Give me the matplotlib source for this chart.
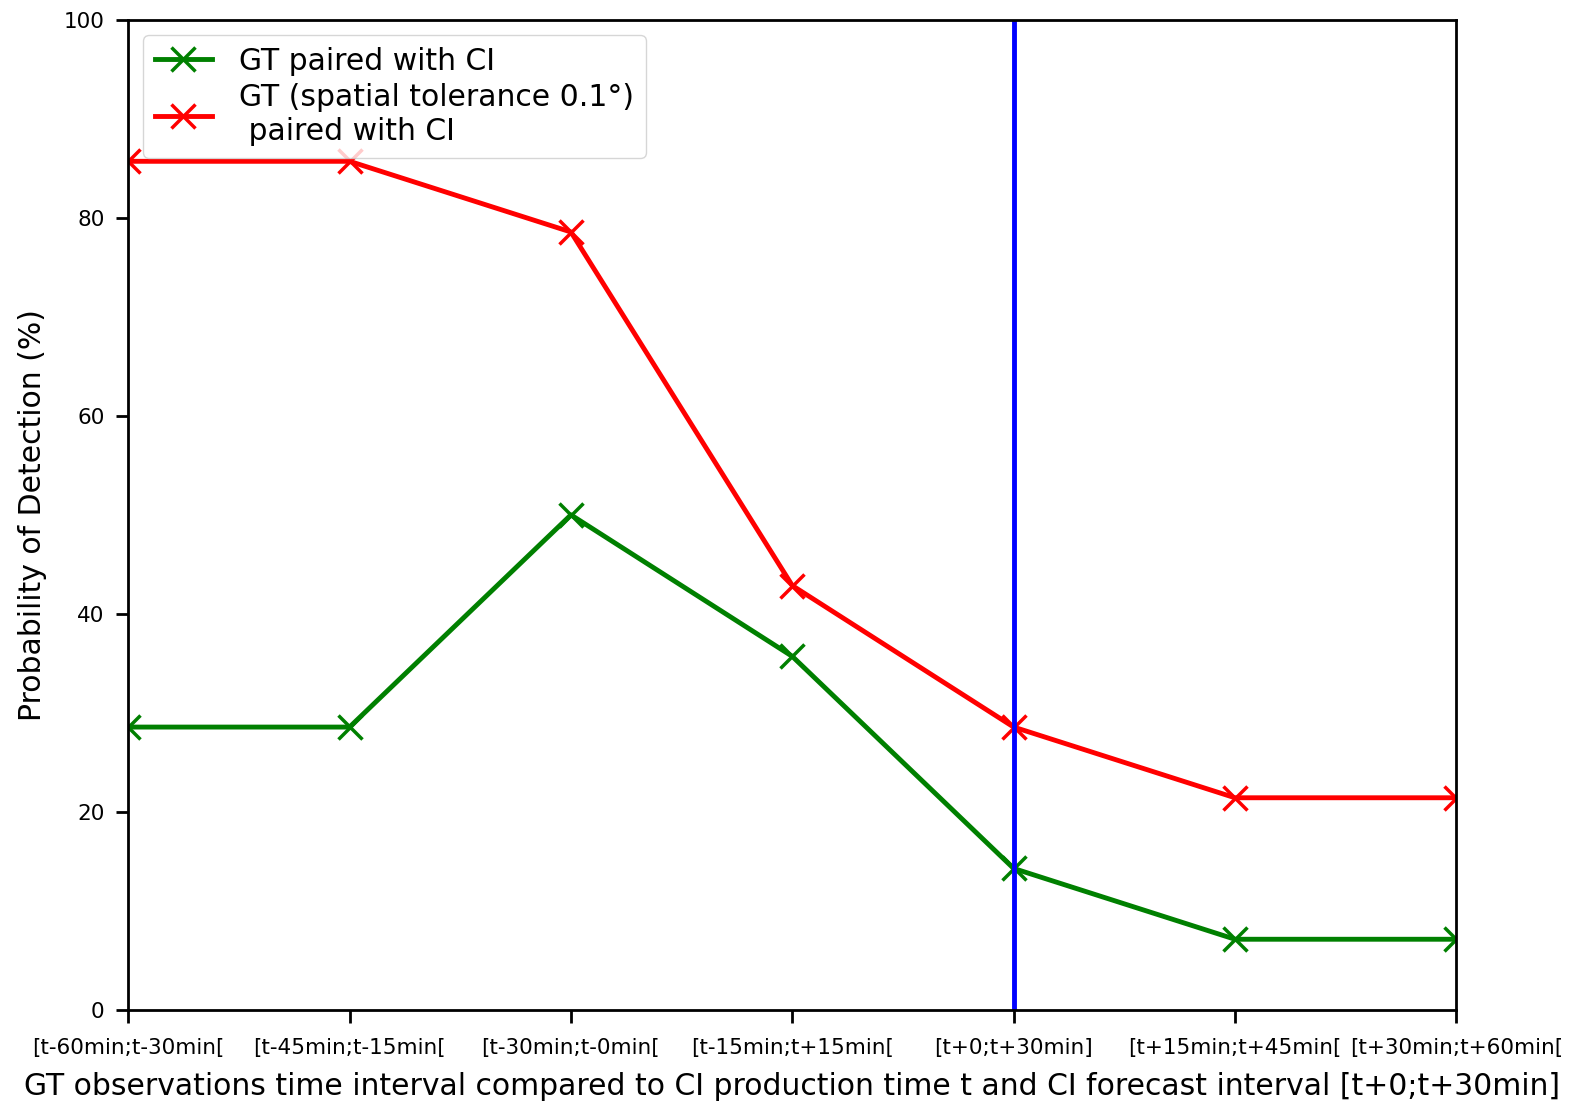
import matplotlib
matplotlib.use("Agg")
import matplotlib.pyplot as plt

categories = ["[t-60min;t-30min[", "[t-45min;t-15min[", "[t-30min;t-0min[",
              "[t-15min;t+15min[", "[t+0;t+30min]", "[t+15min;t+45min[",
              "[t+30min;t+60min["]
gt_paired = [28.57, 28.57, 50.0, 35.71, 14.29, 7.14, 7.14]
gt_tolerance = [85.71, 85.71, 78.57, 42.86, 28.57, 21.43, 21.43]
forecast_index = 4

fig = plt.figure(figsize=(15.83, 11.01), dpi=100)
ax = fig.add_axes([0.081, 0.0827, 0.839, 0.8993])
x = list(range(len(categories)))
ax.plot(x, gt_paired, color="green", marker="x", lw=3.5, ms=17, mew=2.5,
        label="GT paired with CI")
ax.plot(x, gt_tolerance, color="red", marker="x", lw=3.5, ms=17, mew=2.5,
        label="GT (spatial tolerance 0.1°)\n paired with CI")
ax.axvline(forecast_index, color="blue", lw=3.5)
ax.set_xlim(0, len(categories) - 1)
ax.set_ylim(0, 100)
ax.set_xticks(x)
ax.set_xticklabels(categories, fontsize=15.5)
ax.set_yticks([0, 20, 40, 60, 80, 100])
ax.set_yticklabels(["0", "20", "40", "60", "80", "100"], fontsize=15.5)
ax.tick_params(axis="x", length=9, width=2, pad=11)
ax.tick_params(axis="y", length=9, width=2, pad=8)
for s in ax.spines.values():
    s.set_linewidth(2)
ax.set_xlabel("GT observations time interval compared to CI production time t and CI forecast interval [t+0;t+30min]",
              fontsize=21.5, labelpad=10)
ax.set_ylabel("Probability of Detection (%)", fontsize=21.5, labelpad=12)
ax.legend(loc="upper left", fontsize=21.5, handlelength=1.9, handletextpad=0.9,
          borderaxespad=0.5, labelspacing=0.25)
fig.savefig("out.png", dpi=100)
